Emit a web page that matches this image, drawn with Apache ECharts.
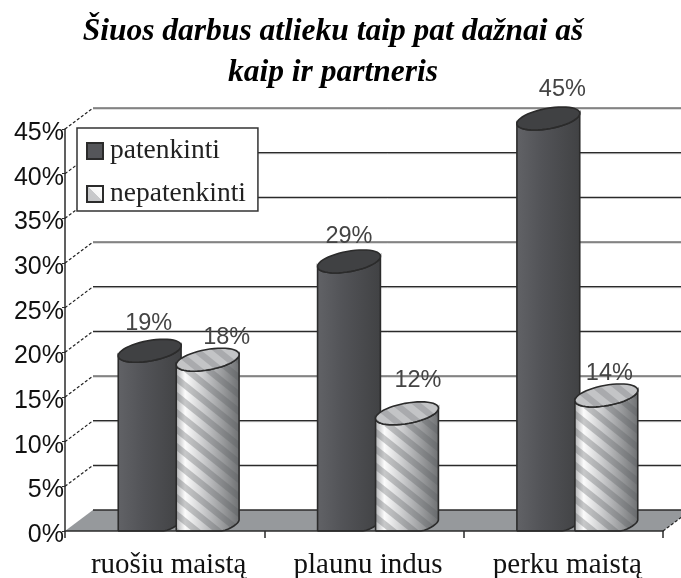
<!DOCTYPE html>
<html>
<head>
<meta charset="utf-8">
<style>
  html, body { margin: 0; padding: 0; background: #fff; }
  #chart { width: 681px; height: 578px; }
</style>
<script src="https://cdn.jsdelivr.net/npm/echarts@6/dist/echarts.min.js"></script>
</head>
<body>
<div id="chart"></div>
<script>
// data
const chartTitle = 'Šiuos darbus atlieku taip pat dažnai aš\nkaip ir partneris';
const categories = ['ruošiu maistą', 'plaunu indus', 'perku maistą'];
const patenkinti = [19, 29, 45];
const nepatenkinti = [18, 12, 14];
const yTicks = [0, 5, 10, 15, 20, 25, 30, 35, 40, 45];

// label shift per bar, the original labels are not centred on the cylinders
const darkLabelShift = [[-1, 2], [0, 5], [14, 1]];
const lightLabelShift = [[19, 7], [11, -3], [3, 8]];

// fake 3D: how far the back wall sits from the front plane
const depthX = 28;
const depthY = 21;
const halfWidth = 28.2;   // cylinder radius in the front plane
const barOffset = 29;     // cylinder centre from category centre
const serif = '"Liberation Serif"';
const sans = '"Liberation Sans", sans-serif';

const chart = echarts.init(document.getElementById('chart'));

function ring(cx, cy, maxY) {
  const pts = [];
  for (let i = 0; i < 48; i++) {
    const t = i / 48 * Math.PI * 2;
    const y = cy + Math.sin(t) * -(depthY / 2 + 1);
    pts.push([cx + Math.cos(t) * halfWidth + Math.sin(t) * depthX / 2, maxY ? Math.min(y, maxY) : y]);
  }
  return pts;
}

function stripes(x0, x1, y0, y1, color) {
  const out = [];
  const slope = 0.8;
  const w = x1 - x0;
  for (let y = y0 - w * slope; y < y1; y += 17) {
    out.push({
      type: 'polygon',
      shape: { points: [[x0, y], [x1, y + w * slope], [x1, y + w * slope + 8], [x0, y + 8]] },
      style: { fill: color }
    });
  }
  return out;
}

function wallItem(params, api) {
  const rect = params.coordSys;
  const p = api.coord([0, api.value(0)]);
  const x = rect.x;
  const right = rect.x + rect.width + depthX;
  return {
    type: 'group',
    children: [
      { type: 'line', shape: { x1: x, y1: p[1], x2: x + depthX, y2: p[1] - depthY },
        style: { stroke: '#222', lineWidth: 1.2, lineDash: [3, 2] } },
      { type: 'line', shape: { x1: x + depthX, y1: p[1] - depthY + 1, x2: right, y2: p[1] - depthY + 1 },
        style: { stroke: '#bbb', lineWidth: 1 } },
      { type: 'line', shape: { x1: x + depthX, y1: p[1] - depthY, x2: right, y2: p[1] - depthY },
        style: { stroke: '#2b2b2b', lineWidth: 1.2 } }
    ]
  };
}

function floorItem(params, api) {
  const rect = params.coordSys;
  const y = api.coord([0, 0])[1];
  const x = rect.x;
  const x2 = rect.x + rect.width;
  return {
    type: 'group',
    children: [
      { type: 'polygon',
        shape: { points: [[x, y], [x2, y], [x2 + depthX, y - depthY], [x + depthX, y - depthY]] },
        style: { fill: '#96999c' } },
      { type: 'line', shape: { x1: x2, y1: y, x2: x2 + depthX, y2: y - depthY },
        style: { stroke: '#222', lineWidth: 1.2, lineDash: [3, 2] } },
      { type: 'line', shape: { x1: x + depthX, y1: y - depthY, x2: x2 + depthX, y2: y - depthY },
        style: { stroke: '#2b2b2b', lineWidth: 1.5 } }
    ]
  };
}

function cylinderItem(sign, striped, shifts) {
  return function (params, api) {
    const idx = api.value(0);
    const top = api.coord([idx, api.value(1)]);
    const bottom = api.coord([idx, 0]);
    const cx = top[0] + depthX / 2 + sign * barOffset;
    const cyTop = top[1] - depthY / 2;
    const cyBase = bottom[1] - depthY / 2 + 4;
    const half = Math.sqrt(halfWidth * halfWidth + depthX * depthX / 4);

    const topRing = ring(cx, cyTop);
    const baseRing = ring(cx, cyBase, bottom[1]);
    // silhouette: front half of the top ring, then front half of the base ring
    const frontTop = topRing.filter(function (p, i) {
      const t = i / 48 * Math.PI * 2;
      return Math.sin(t) * halfWidth - Math.cos(t) * depthX / 2 <= 0;
    }).sort(function (a, b) { return a[0] - b[0]; });
    const frontBase = baseRing.filter(function (p, i) {
      const t = i / 48 * Math.PI * 2;
      return Math.sin(t) * halfWidth - Math.cos(t) * depthX / 2 <= 0;
    }).sort(function (a, b) { return b[0] - a[0]; });
    // left edge runs straight down to the axis
    const bodyPts = frontTop.concat(frontBase).concat([[frontTop[0][0], bottom[1]]]);

    const bodyFill = striped
      ? new echarts.graphic.LinearGradient(0, 0, 1, 0, [
          { offset: 0, color: '#b4b5b7' },
          { offset: 0.14, color: '#fbfbfb' },
          { offset: 0.5, color: '#bfc0c2' },
          { offset: 1, color: '#707274' }
        ])
      : new echarts.graphic.LinearGradient(0, 0, 1, 0, [
          { offset: 0, color: '#616266' },
          { offset: 0.4, color: '#525357' },
          { offset: 1, color: '#414244' }
        ]);

    const children = [
      { type: 'polygon', shape: { points: bodyPts }, style: { fill: bodyFill } }
    ];
    if (striped) {
      children.push({
        type: 'group',
        clipPath: { type: 'polygon', shape: { points: bodyPts } },
        children: stripes(cx - half, cx + half, cyTop - 20, bottom[1] + 5, 'rgba(90,92,95,0.32)')
      });
    }
    children.push({ type: 'polygon', shape: { points: bodyPts },
      style: { fill: 'none', stroke: '#2b2b2b', lineWidth: 1.6 } });
    children.push({ type: 'polygon', shape: { points: topRing },
      style: { fill: striped ? '#c3c4c6' : '#404143' } });
    if (striped) {
      children.push({
        type: 'group',
        clipPath: { type: 'polygon', shape: { points: topRing } },
        children: stripes(cx - half, cx + half, cyTop - 30, cyTop + 30, 'rgba(120,122,125,0.35)')
      });
    }
    children.push({ type: 'polygon', shape: { points: topRing },
      style: { fill: 'none', stroke: '#2b2b2b', lineWidth: 1.6 } });
    children.push({
      type: 'text',
      z2: 50,
      style: {
        x: cx + shifts[idx][0],
        y: top[1] - depthY - 19 + shifts[idx][1],
        text: api.value(1) + '%',
        fill: '#444',
        font: '23.5px ' + sans,
        align: 'center',
        verticalAlign: 'middle'
      }
    });
    return { type: 'group', children: children };
  };
}

const option = {
  animation: false,
  backgroundColor: '#fff',
  title: {
    text: chartTitle,
    left: 333,
    top: 11,
    padding: 0,
    textAlign: 'center',
    textStyle: {
      fontFamily: serif,
      fontStyle: 'italic',
      fontWeight: 'bold',
      fontSize: 31.5,
      lineHeight: 41,
      color: '#000'
    }
  },
  legend: {
    orient: 'vertical',
    left: 77,
    top: 128,
    z: 20,
    padding: [9, 12, 3, 9],
    itemGap: 15,
    itemWidth: 16,
    itemHeight: 16,
    backgroundColor: '#fff',
    borderColor: '#333',
    borderWidth: 1.5,
    textStyle: { fontFamily: serif, fontSize: 27.5, color: '#222', padding: [0, 0, 0, 2] },
    data: [
      { name: 'patenkinti', icon: 'rect',
        itemStyle: { color: '#55565a', borderColor: '#2b2b2b', borderWidth: 2 } },
      { name: 'nepatenkinti', icon: 'rect',
        itemStyle: {
          color: new echarts.graphic.LinearGradient(0, 1, 1, 0, [
            { offset: 0, color: '#c4c5c7' },
            { offset: 0.5, color: '#c8c9cb' },
            { offset: 0.52, color: '#f6f6f6' },
            { offset: 1, color: '#fff' }
          ]),
          borderColor: '#2b2b2b', borderWidth: 2 } }
    ]
  },
  // outerBoundsMode none: keep the grid where it is set, labels must not shrink it
  grid: { left: 65, top: 129, right: 18, bottom: 47, outerBoundsMode: 'none' },
  xAxis: {
    type: 'category',
    data: categories,
    axisLine: { show: true, onZero: false, lineStyle: { color: '#2b2b2b', width: 1.5 } },
    axisTick: { show: true, interval: 0, length: 7, lineStyle: { color: '#2b2b2b', width: 1.5 } },
    axisLabel: { interval: 0, color: '#111', fontFamily: serif, fontSize: 29, margin: 20, padding: [0, 0, 0, 8] },
    z: 10
  },
  yAxis: {
    type: 'value',
    min: 0,
    max: 45,
    interval: 5,
    axisLine: { show: true, lineStyle: { color: '#2b2b2b', width: 1.5 } },
    axisTick: { show: true, length: 3, lineStyle: { color: '#2b2b2b' } },
    splitLine: { show: false },
    axisLabel: { formatter: '{value}%', color: '#111', fontFamily: sans, fontSize: 25, margin: 1, verticalAlign: 'top', lineHeight: 8 }
  },
  series: [
    { type: 'custom', name: 'wall', silent: true, clip: false, z: 1,
      renderItem: wallItem, data: yTicks.slice(1).map(function (v) { return [v]; }),
      encode: { y: 0 } },
    { type: 'custom', name: 'floor', silent: true, clip: false, z: 1,
      renderItem: floorItem, data: [[0]], encode: { y: 0 } },
    { type: 'custom', name: 'patenkinti', silent: true, clip: false, z: 3,
      itemStyle: { color: '#55565a' },
      renderItem: cylinderItem(-1, false, darkLabelShift),
      data: patenkinti.map(function (v, i) { return [i, v]; }), encode: { x: 0, y: 1 } },
    { type: 'custom', name: 'nepatenkinti', silent: true, clip: false, z: 4,
      itemStyle: { color: '#d0d0d0' },
      renderItem: cylinderItem(1, true, lightLabelShift),
      data: nepatenkinti.map(function (v, i) { return [i, v]; }), encode: { x: 0, y: 1 } }
  ]
};

chart.setOption(option);
</script>
</body>
</html>
